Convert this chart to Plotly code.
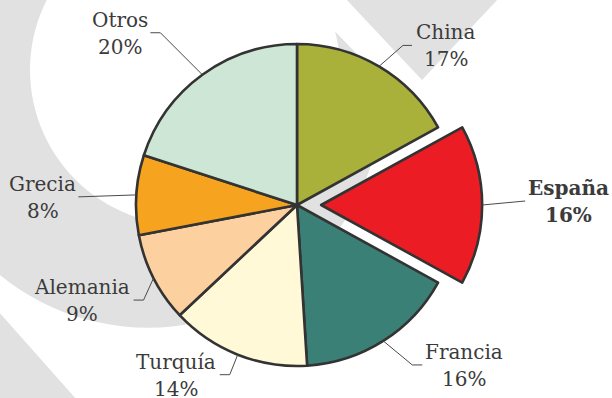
import numpy as np
import plotly.graph_objects as go

# ---- data -------------------------------------------------------------
paises = ["China", "España", "Francia", "Turquía", "Alemania", "Grecia", "Otros"]
cuotas = [17, 16, 16, 14, 9, 8, 20]
destacado = "España"

colores = ["#a9b13b", "#ec1c24", "#3a8076", "#fff9d7", "#fdd09f", "#f6a41f", "#cde6d6"]

# ---- canvas / pie geometry (pixels) ------------------------------------
W, H = 612, 398
CX, CY, R = 297, 205, 161
PULL = 0.15
GRIS = "#e1e1e1"
TEXTO = "#3b3b3b"
FUENTE = "DejaVu Serif"


def pp(x, y):
    """pixel -> paper coordinates"""
    return x / W, 1 - y / H


# pie domain so that the unpulled radius is R around (CX, CY)
half = R * (1 + PULL)
dom_x = [(CX - half) / W, (CX + half) / W]
dom_y = [1 - (CY + half) / H, 1 - (CY - half) / H]

pulls = [PULL if p == destacado else 0 for p in paises]

fig = go.Figure(
    go.Pie(
        labels=paises,
        values=cuotas,
        sort=False,
        direction="clockwise",
        rotation=0,
        pull=pulls,
        textinfo="none",
        hoverinfo="label+percent",
        marker=dict(colors=colores, line=dict(color="#333333", width=2.6)),
        domain=dict(x=dom_x, y=dom_y),
        showlegend=False,
    )
)

# ---- decorative background --------------------------------------------
def circle_path(cx, cy, r, n=120):
    t = np.linspace(0, 2 * np.pi, n, endpoint=False)
    pts = [pp(cx + r * np.cos(a), cy + r * np.sin(a)) for a in t]
    return "M " + " L ".join(f"{x:.5f},{y:.5f}" for x, y in pts) + " Z"


def poly_path(points):
    pts = [pp(x, y) for x, y in points]
    return "M " + " L ".join(f"{x:.5f},{y:.5f}" for x, y in pts) + " Z"


shapes = []
# ring
shapes.append(dict(type="path", xref="paper", yref="paper", layer="below",
                   path=circle_path(148, 93.4, 234.3) + " " + circle_path(185, 70, 155),
                   fillrule="evenodd", fillcolor=GRIS, line=dict(width=0)))
# white diagonal cut at the top of the ring
shapes.append(dict(type="path", xref="paper", yref="paper", layer="below",
                   path=poly_path([(300, -5), (620, -5), (620, 330), (300 + 0.9625 * 335, 330)]),
                   fillcolor="white", line=dict(width=0)))
# chevron at the top
shapes.append(dict(type="path", xref="paper", yref="paper", layer="below",
                   path=poly_path([(345, -2), (499, -2), (422, 80)]),
                   fillcolor=GRIS, line=dict(width=0)))
# corner band bottom-left
shapes.append(dict(type="path", xref="paper", yref="paper", layer="below",
                   path=poly_path([(-2, 311), (77, 400), (-2, 400)]),
                   fillcolor=GRIS, line=dict(width=0)))

# ---- labels with leader lines -----------------------------------------
# elbow offset from the slice edge, horizontal tail, text-centre offset
guias = {
    "China":    dict(elbow=(24, -21), tail=9,   tx=34),
    "España":   dict(elbow=(43, -4),  tail=0,   tx=43),
    "Francia":  dict(elbow=(29, 24),  tail=10,  tx=42),
    "Turquía":  dict(elbow=(-8, 20),  tail=-10, tx=-44),
    "Alemania": dict(elbow=(-10, 22), tail=-10, tx=-51.5),
    "Grecia":   dict(elbow=(-58, 2),  tail=0,   tx=-35.5),
    "Otros":    dict(elbow=(-42, -42), tail=-10, tx=-30),
}

total = sum(cuotas)
acum = 0
annotations = []
for pais, v, pull in zip(paises, cuotas, pulls):
    mid = np.deg2rad((acum + v / 2) / total * 360)
    acum += v
    rr = R * (1 + pull)
    x0, y0 = CX + rr * np.sin(mid), CY - rr * np.cos(mid)
    g = guias[pais]
    x1, y1 = x0 + g["elbow"][0], y0 + g["elbow"][1]
    x2, y2 = x1 + g["tail"], y1
    p0, p1, p2 = pp(x0, y0), pp(x1, y1), pp(x2, y2)
    shapes.append(dict(type="path", xref="paper", yref="paper", layer="above",
                       path=f"M {p0[0]:.5f},{p0[1]:.5f} L {p1[0]:.5f},{p1[1]:.5f} L {p2[0]:.5f},{p2[1]:.5f}",
                       line=dict(color="#4a4a4a", width=1)))
    pct = f"{round(v / total * 100)}%"
    bold = pais == destacado
    tx = x2 + g["tx"]
    for txt, dy in ((pais, -13), (pct, 14)):
        ax, ay = pp(tx, y2 + dy)
        annotations.append(dict(
            x=ax, y=ay, xref="paper", yref="paper", xanchor="center", yanchor="middle",
            text=f"<b>{txt}</b>" if bold else txt, showarrow=False,
            font=dict(family=FUENTE, size=20, color=TEXTO)))

fig.update_layout(
    width=W, height=H,
    margin=dict(l=0, r=0, t=0, b=0),
    paper_bgcolor="white", plot_bgcolor="white",
    shapes=shapes, annotations=annotations,
)

fig.write_html("out.html")
